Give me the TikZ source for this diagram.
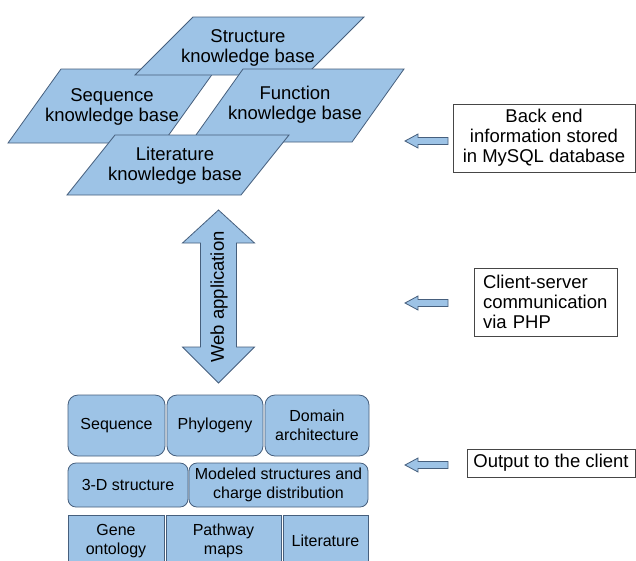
\documentclass[tikz,border=0pt]{standalone}
\usepackage{fontspec}
\setmainfont{Liberation Sans}
\definecolor{kbfill}{RGB}{157,195,230}
\definecolor{kbline}{RGB}{70,95,125}
\definecolor{boxline}{RGB}{70,70,70}
\begin{document}
\begin{tikzpicture}[x=1pt,y=-1pt,
  kb/.style={fill=kbfill,draw=kbline,line width=0.8pt,line join=miter},
  kbtext/.style={font=\fontsize{18.5}{20}\selectfont,align=center,inner sep=0},
  infobox/.style={draw=boxline,line width=0.8pt,font=\fontsize{18.5}{20}\selectfont,inner sep=0,align=center},
  cell/.style={fill=kbfill,draw=kbline,line width=0.8pt,inner sep=0,font=\fontsize{16}{18.5}\selectfont,align=center},
  blockarrow/.style={fill=kbfill,draw=kbline,line width=0.8pt,line join=miter}]
\useasboundingbox (0,0) rectangle (636,560);
\clip (0,0) rectangle (636,560);
\fill[white] (0,0) rectangle (636,560);

% knowledge bases
\draw[kb] (61,69) -- (216,69) -- (163,143) -- (8,143) -- cycle;
\node[kbtext] (seqkb) at (112,107) {Sequence\\knowledge base};
\draw[kb] (193,17) -- (364,17) -- (306,75) -- (135,75) -- cycle;
\node[kbtext] (strkb) at (248,48) {Structure\\knowledge base};
\draw[kb] (243,69) -- (404,69) -- (352,142) -- (191,142) -- cycle;
\node[kbtext] (funkb) at (295,105) {Function\\knowledge base};
\draw[kb] (115,135) -- (289,135) -- (241,195) -- (67,195) -- cycle;
\node[kbtext] (litkb) at (175,166) {Literature\\knowledge base};

% web application double arrow
\draw[blockarrow] (218.5,210) -- (254.5,243) -- (236.5,243) -- (236.5,347) -- (254.5,347)
  -- (218.5,383) -- (182.5,347) -- (200.5,347) -- (200.5,243) -- (182.5,243) -- cycle;
\node[kbtext,rotate=90] (webapp) at (219,297) {Web application};

% right-hand notes
\node[infobox,minimum width=182pt,minimum height=68pt] (backend) at (544,138)
  {Back end\\information stored\\in MySQL database};
\node[infobox,minimum width=143pt,minimum height=68pt,text width=125pt,align=left,inner xsep=9pt] (client) at (545.5,302)
  {Client-server\\communication\\via PHP};
\node[infobox,minimum width=168pt,minimum height=28pt] (output) at (551,463) {Output to the client};

% small arrows
\foreach \yy in {141,303,465}{
  \draw[blockarrow] (405,\yy) -- (418,\yy-7) -- (418,\yy-3.5) -- (448,\yy-3.5)
    -- (448,\yy+3.5) -- (418,\yy+3.5) -- (418,\yy+7) -- cycle;
}

% output cells
\node[cell,rounded corners=10pt,minimum width=97pt,minimum height=61pt] (cseq) at (116.5,425.5) {Sequence};
\node[cell,rounded corners=10pt,minimum width=96pt,minimum height=61pt] (cphy) at (215,425.5) {Phylogeny};
\node[cell,rounded corners=10pt,minimum width=104pt,minimum height=61pt] (cdom) at (317,425.5) {Domain\\architecture};
\node[cell,rounded corners=8pt,minimum width=120pt,minimum height=44pt] (c3d) at (128,485) {3-D structure};
\node[cell,rounded corners=8pt,minimum width=179pt,minimum height=44pt] (cmod) at (278.5,485) {Modeled structures and\\charge distribution};
\node[cell,minimum width=96pt,minimum height=52pt] (cgene) at (116,541) {Gene\\ontology};
\node[cell,minimum width=115pt,minimum height=52pt] (cpath) at (223.5,541) {Pathway\\maps};
\node[cell,minimum width=85pt,minimum height=52pt] (clit) at (325.5,541) {Literature};
\end{tikzpicture}
\end{document}
